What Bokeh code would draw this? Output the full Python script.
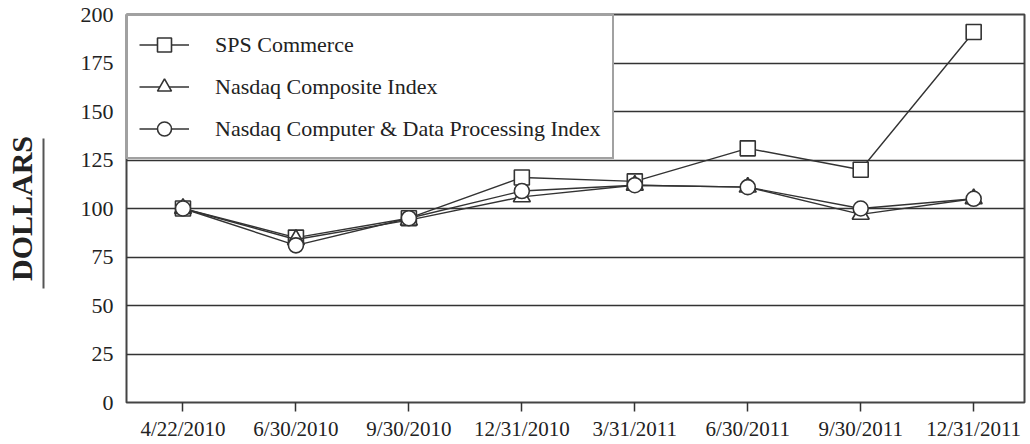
from bokeh.plotting import figure
from bokeh.models import Range1d, FixedTicker, Legend, LinearAxis
from bokeh.embed import file_html
from bokeh.resources import INLINE

dates = ["4/22/2010", "6/30/2010", "9/30/2010", "12/31/2010", "3/31/2011", "6/30/2011", "9/30/2011", "12/31/2011"]
sps = [100, 85, 95, 116, 114, 131, 120, 191]
nasdaq = [100, 84, 94, 106, 112, 111, 97, 105]
computer = [100, 81, 95, 109, 112, 111, 100, 105]
y_ticks = [0, 25, 50, 75, 100, 125, 150, 175, 200]

xs = list(range(len(dates)))
FONT = "Liberation Serif"
DARK = "#333333"
TEXT = "#222222"

p = figure(width=1026, height=443, output_backend="svg", toolbar_location=None,
           x_range=Range1d(-0.5, 7.45), y_range=Range1d(0, 200),
           min_border_left=126, min_border_right=2, min_border_top=14, min_border_bottom=36)
p.outline_line_color = "#444444"
p.outline_line_width = 2

p.xgrid.visible = False
p.ygrid.grid_line_color = DARK
p.ygrid.grid_line_width = 1.6
p.ygrid.ticker = FixedTicker(ticks=y_ticks)

ya = p.yaxis[0]
ya.ticker = FixedTicker(ticks=y_ticks)
ya.major_tick_out = 0
ya.major_tick_in = 0
ya.minor_tick_line_color = None
ya.axis_line_color = None
ya.major_label_standoff = 13
ya.major_label_text_font = FONT
ya.major_label_text_font_size = "22px"
ya.major_label_text_color = TEXT
ya.axis_label = "\u00a0"
ya.axis_label_text_font_size = "10px"
ya.axis_label_standoff = 20

# outer axis: its line is the underline of the "DOLLARS" title
ua = LinearAxis(bounds=(59, 136), ticker=FixedTicker(ticks=[]))
ua.major_tick_out = 0
ua.major_tick_in = 0
ua.minor_tick_line_color = None
ua.major_label_standoff = 0
ua.axis_line_color = "#555555"
ua.axis_line_width = 2
ua.axis_label = "DOLLARS"
ua.axis_label_text_font = FONT
ua.axis_label_text_font_size = "30px"
ua.axis_label_text_font_style = "bold"
ua.axis_label_text_color = TEXT
ua.axis_label_standoff = 6
p.add_layout(ua, "left")

xa = p.xaxis[0]
xa.ticker = FixedTicker(ticks=xs)
xa.major_label_overrides = {i: d for i, d in enumerate(dates)}
xa.major_tick_out = 9
xa.major_tick_in = 0
xa.major_tick_line_color = DARK
xa.major_tick_line_width = 1.5
xa.minor_tick_line_color = None
xa.axis_line_color = None
xa.major_label_standoff = 5
xa.major_label_text_font = FONT
xa.major_label_text_font_size = "21px"
xa.major_label_text_color = TEXT

series = [
    ("SPS Commerce", sps, "square", 15),
    ("Nasdaq Composite Index", nasdaq, "triangle", 17),
    ("Nasdaq Computer & Data Processing Index", computer, "circle", 15),
]
items = []
for name, ys, marker, size in series:
    r1 = p.line(xs, ys, line_color=DARK, line_width=1.4)
    r2 = p.scatter(xs, ys, marker=marker, size=size, fill_color="white",
                   line_color=DARK, line_width=1.6)
    items.append((name, [r1, r2]))

legend = Legend(items=items, location="top_left")
legend.margin = 0
legend.padding = 11
legend.spacing = 7
legend.glyph_width = 50
legend.glyph_height = 35
legend.label_height = 35
legend.label_standoff = 26
legend.label_text_font = FONT
legend.label_text_font_size = "22px"
legend.label_text_color = TEXT
legend.border_line_color = "#444444"
legend.border_line_width = 2
legend.background_fill_alpha = 1
legend.background_fill_color = "white"
p.add_layout(legend, "center")

open("out.html", "w").write(file_html(p, INLINE))
